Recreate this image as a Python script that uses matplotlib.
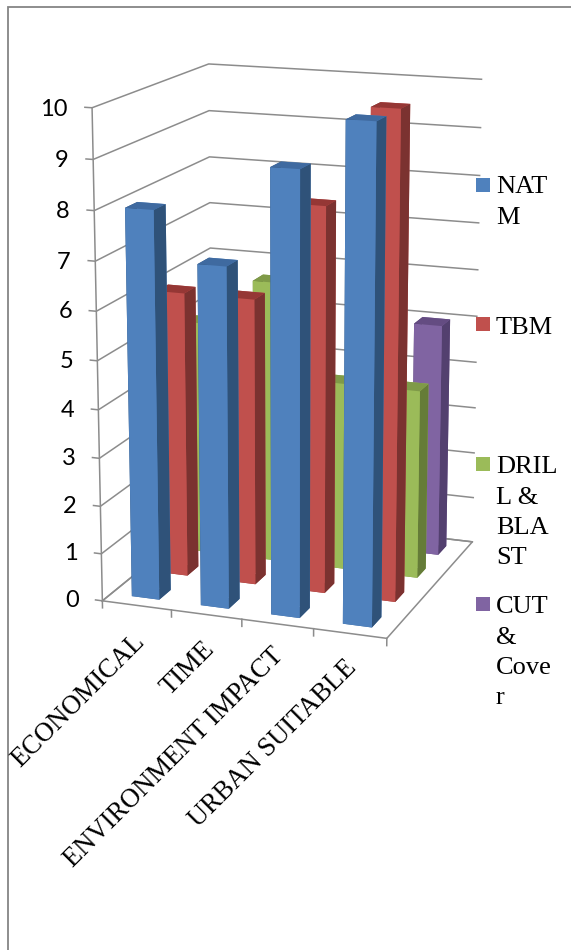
# filename: plot.py
import numpy as np
import matplotlib
matplotlib.use('Agg')
import matplotlib.pyplot as plt
from matplotlib.patches import Rectangle

categories = ['ECONOMICAL', 'TIME', 'ENVIRONMENT IMPACT', 'URBAN SUITABLE']
natm = [8, 7, 9, 10]
tbm = [6, 6, 8, 10]
drill = [5, 6, 4, 4]
cut = [3, 3, 3, 5]
series_values = [natm, tbm, drill, cut]
legend_labels = ['NAT\nM', 'TBM', 'DRIL\nL &\nBLA\nST', 'CUT\n&\nCove\nr']
y_ticks = list(range(0, 11))

# front, side, top colours for each series
face_colors = ['#4F81BD', '#C0504D', '#9BBB59', '#8064A2']
side_colors = ['#2F5279', '#7B3230', '#657C38', '#53406F']
top_colors = ['#3F6AA0', '#953735', '#7F9A48', '#644C82']

# match the perspective of the picture: box corners (category, series, value) -> pixel
box_pts = [(0, 0, 0), (1, 0, 0), (2, 0, 0), (3, 0, 0), (4, 0, 0), (0, 0, 10), (0, 0, 8),
           (0, 4, 10), (0, 4, 8), (0, 4, 6),
           (4, 4, 10), (4, 4, 8), (4, 4, 6), (4, 4, 4), (4, 4, 2), (4, 4, 0)]
pix_pts = [(102.7, 600), (171.7, 610.7), (242, 620), (313, 629), (386.7, 637.7), (92, 108), (94.2, 210),
           (209, 64), (209, 157), (210, 248),
           (481.7, 79.7), (479.7, 175), (477.7, 270), (476, 362), (474.3, 453), (472.3, 541.7)]

A = []
b = []
for (X, Y, Z), (u, v) in zip(box_pts, pix_pts):
    A.append([X, Y, Z, 1, 0, 0, 0, 0, -u * X, -u * Y, -u * Z])
    A.append([0, 0, 0, 0, X, Y, Z, 1, -v * X, -v * Y, -v * Z])
    b += [u, v]
p = np.linalg.lstsq(np.array(A, float), np.array(b, float), rcond=None)[0]
proj = np.array([p[:4], p[4:8], [0, 0, 0, -1], [p[8], p[9], p[10], 1.0]])


def to_pixel(x, y, z):
    res = proj @ np.array([x, y, z, 1.0])
    return res[0] / res[3], res[1] / res[3]


fig = plt.figure(figsize=(5.71, 9.5), dpi=100)
ax = fig.add_axes([0, 0, 1, 1], projection='3d')
ax.set_axis_off()
ax.set_proj_type('ortho')  # only so that lines are not clipped, get_proj is replaced below
ax.computed_zorder = False
ax.patch.set_alpha(0)
ax.get_proj = lambda: proj
ax.apply_aspect = lambda position=None: None

grid_color = '#8C8C8C'
for v in y_ticks:
    ax.plot([-0.1, 0, 0, 4], [0, 0, 4, 4], [v, v, v, v], color=grid_color, lw=1.1, zorder=1)
ax.plot([0, 0], [0, 0], [0, 10], color=grid_color, lw=1.1, zorder=1)
ax.plot([0, 4, 4, 0, 0], [0, 0, 4, 4, 0], [0, 0, 0, 0, 0], color=grid_color, lw=1.1, zorder=1)
for i in range(5):
    ax.plot([i, i], [0, 0], [0, -0.15], color=grid_color, lw=1.1, zorder=1)

# back series first, left to right inside a series
bar_size = 0.4
order = 10
for s in range(3, -1, -1):
    for c in range(4):
        colors = [top_colors[s], top_colors[s], face_colors[s], face_colors[s], side_colors[s], side_colors[s]]
        ax.bar3d(c + 0.3, s + 0.3, 0, bar_size, bar_size, series_values[s][c],
                 color=colors, shade=False, linewidth=0, zorder=order)
        order += 1

ax.viewLim.intervalx = (0, 571)
ax.viewLim.intervaly = (950, 0)

# flat layer in pixels for the frame, legend and labels
top = fig.add_axes([0, 0, 1, 1])
top.set_xlim(0, 571)
top.set_ylim(950, 0)
top.axis('off')

top.plot([7.5, 7.5, 571], [950, 6.7, 6.7], color='#858585', lw=1.3, solid_joinstyle='miter')

for v in y_ticks:
    tx, ty = to_pixel(-0.36, 0, v)
    top.text(tx + 1, ty + 3, str(v), ha='right', va='center', fontsize=17, family='Lato', color='black')

legend_tops = [178, 317, 457, 597]
text_tops = [176, 317, 456, 596]
for s in range(4):
    top.add_patch(Rectangle((476, legend_tops[s]), 14, 14, facecolor=face_colors[s], edgecolor='none'))
    top.text(496, text_tops[s], legend_labels[s], family='Liberation Serif', fontsize=19,
             va='top', ha='left', linespacing=1.5, color='black')

label_x = [141, 211, 280, 353]
label_y = [638, 646, 652, 664]
for c in range(4):
    top.text(label_x[c], label_y[c], categories[c], family='Liberation Serif', fontsize=19.1, rotation=45,
             ha='right', va='center', rotation_mode='anchor', color='black')

plt.savefig('out.png', dpi=100)
